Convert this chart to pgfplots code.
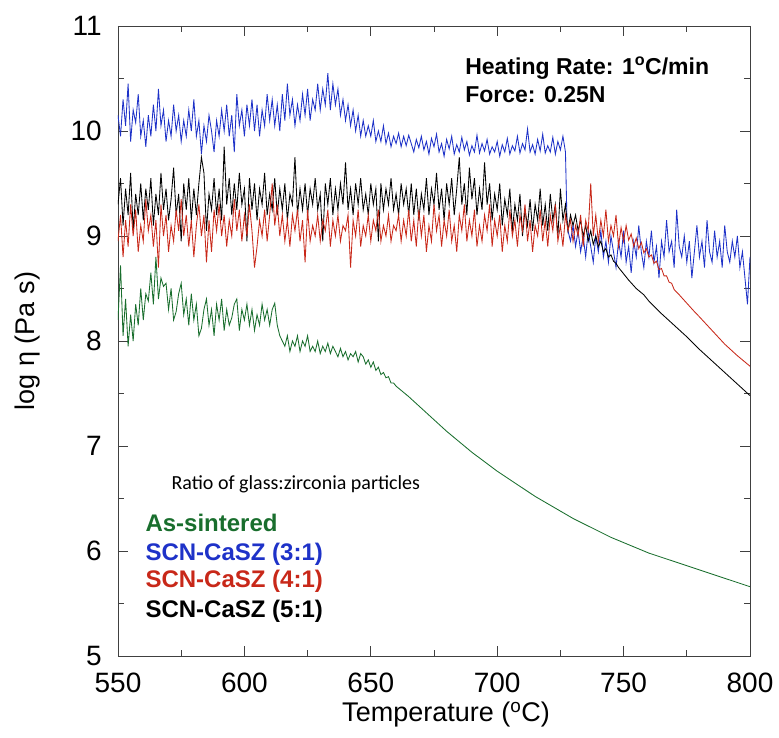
\documentclass[border=0pt]{standalone}
\usepackage{fontspec}
\setmainfont{Liberation Sans}
\newfontfamily\carlito{Carlito}
\usepackage{pgfplots}
\usepackage{pgfplotstable}
\pgfplotsset{compat=1.18}
\definecolor{cG}{RGB}{25,110,45}
\definecolor{cB}{RGB}{30,50,200}
\definecolor{cR}{RGB}{200,40,25}

\pgfplotstableread[row sep=\\]{x y\\
550 8.20\\551 8.72\\552 8.05\\553 8.40\\554 7.95\\555 8.25\\556 8.00\\557 8.35\\558 8.15\\559 8.50\\
560 8.20\\561 8.45\\562 8.38\\563 8.65\\564 8.35\\565 8.80\\566 8.40\\567 8.60\\568 8.52\\569 8.55\\
570 8.30\\571 8.50\\572 8.20\\573 8.28\\574 8.45\\575 8.55\\576 8.25\\577 8.40\\578 8.15\\579 8.45\\
580 8.20\\581 8.35\\582 8.05\\583 8.12\\584 8.30\\585 8.40\\586 8.15\\587 8.30\\588 8.05\\589 8.35\\
590 8.20\\591 8.40\\592 8.10\\593 8.30\\594 8.15\\595 8.22\\596 8.35\\597 8.40\\598 8.10\\599 8.30\\
600 8.20\\601 8.35\\602 8.15\\603 8.30\\604 8.10\\605 8.25\\606 8.15\\607 8.35\\608 8.20\\609 8.30\\
610 8.15\\611 8.30\\612 8.36\\613 8.15\\614 8.05\\615 8.00\\616 7.95\\617 8.05\\618 7.90\\619 8.00\\
620 7.95\\621 8.05\\622 7.90\\623 8.00\\624 7.95\\625 8.05\\626 7.90\\627 7.95\\628 7.90\\629 8.00\\
630 7.88\\631 7.95\\632 7.90\\633 7.98\\634 7.88\\635 7.95\\636 7.90\\637 7.85\\638 7.93\\639 7.85\\
640 7.90\\641 7.82\\642 7.88\\643 7.85\\644 7.90\\645 7.80\\646 7.88\\647 7.85\\648 7.78\\649 7.82\\
650 7.75\\651 7.80\\652 7.72\\653 7.75\\654 7.68\\655 7.70\\656 7.65\\657 7.66\\658 7.60\\659 7.60\\
660 7.57\\661 7.55\\662 7.53\\663 7.51\\664 7.49\\665 7.47\\670 7.36\\675 7.25\\680 7.14\\685 7.04\\
690 6.94\\695 6.85\\700 6.76\\705 6.68\\710 6.60\\715 6.52\\720 6.45\\725 6.38\\730 6.31\\735 6.25\\
740 6.19\\745 6.13\\750 6.08\\755 6.03\\760 5.98\\765 5.94\\770 5.90\\775 5.86\\780 5.82\\785 5.78\\
790 5.74\\795 5.70\\800 5.66\\
}\tG

\pgfplotstableread[row sep=\\]{x y\\
550 10.15\\551 9.95\\552 10.30\\553 10.05\\554 10.45\\555 9.90\\556 10.20\\557 10.08\\558 10.35\\559 9.95\\
560 10.10\\561 9.85\\562 10.15\\563 9.95\\564 10.25\\565 10.00\\566 10.40\\567 10.05\\568 10.20\\569 9.90\\
570 10.10\\571 9.95\\572 10.25\\573 10.00\\574 10.15\\575 9.90\\576 10.10\\577 9.95\\578 10.20\\579 10.00\\
580 10.30\\581 9.95\\582 10.10\\583 9.78\\584 10.05\\585 9.90\\586 10.15\\587 10.00\\588 9.80\\589 10.10\\
590 9.95\\591 10.20\\592 10.00\\593 10.25\\594 9.95\\595 10.15\\596 9.80\\597 10.35\\598 10.05\\599 10.20\\
600 9.95\\601 10.25\\602 10.05\\603 10.30\\604 10.00\\605 10.25\\606 9.95\\607 10.20\\608 10.05\\609 10.35\\
610 10.10\\611 10.30\\612 10.05\\613 10.25\\614 10.00\\615 10.35\\616 10.10\\617 10.45\\618 10.15\\619 10.30\\
620 10.05\\621 10.25\\622 10.10\\623 10.35\\624 10.15\\625 10.40\\626 10.10\\627 10.30\\628 10.20\\629 10.45\\
630 10.20\\631 10.40\\632 10.25\\633 10.55\\634 10.20\\635 10.45\\636 10.25\\637 10.40\\638 10.15\\639 10.30\\
640 10.10\\641 10.25\\642 10.05\\643 10.20\\644 10.00\\645 10.15\\646 9.95\\647 10.10\\648 9.95\\649 10.05\\
650 9.95\\651 10.10\\652 9.90\\653 10.00\\654 9.90\\655 10.05\\656 9.88\\657 9.98\\658 9.85\\659 9.95\\
660 9.88\\661 9.98\\662 9.85\\663 9.95\\664 9.86\\665 9.96\\666 9.88\\667 9.80\\668 9.92\\669 9.84\\
670 9.95\\671 9.82\\672 9.90\\673 9.78\\674 9.93\\675 9.85\\676 9.97\\677 9.80\\678 9.88\\679 9.76\\
680 9.92\\681 9.83\\682 9.95\\683 9.78\\684 9.87\\685 9.80\\686 9.94\\687 9.82\\688 9.90\\689 9.77\\
690 9.86\\691 9.80\\692 9.96\\693 9.79\\694 9.88\\695 9.81\\696 9.92\\697 9.78\\698 9.85\\699 9.80\\
700 9.90\\701 9.76\\702 9.87\\703 9.80\\704 9.93\\705 9.78\\706 9.86\\707 9.81\\708 9.95\\709 9.79\\
710 9.88\\711 9.82\\712 10.02\\713 9.80\\714 9.87\\715 9.78\\716 9.92\\717 9.81\\718 9.97\\719 9.79\\
720 9.86\\721 9.80\\722 9.94\\723 9.78\\724 9.90\\725 9.82\\726 9.95\\727 9.80\\727.6 9.15\\
728 9.05\\729 8.95\\730 9.10\\731 8.90\\732 9.05\\733 8.85\\734 9.00\\735 8.80\\736 9.05\\737 8.90\\
738 8.75\\739 9.00\\740 8.85\\741 9.05\\742 8.80\\743 8.95\\744 8.75\\745 9.00\\746 8.85\\747 8.70\\
748 8.95\\749 8.80\\750 9.05\\751 8.75\\752 8.90\\753 8.65\\754 8.95\\755 8.80\\756 9.10\\757 8.85\\
758 8.70\\759 8.95\\760 8.80\\761 9.05\\762 8.75\\763 8.90\\764 8.60\\765 8.95\\766 8.80\\767 9.15\\
768 8.85\\769 8.95\\770 8.70\\771 9.25\\772 8.90\\773 8.80\\774 9.00\\775 8.75\\776 8.95\\777 8.60\\
778 8.85\\779 9.10\\780 8.80\\781 8.95\\782 8.70\\783 9.15\\784 8.85\\785 8.75\\786 9.05\\787 8.80\\
788 8.95\\789 8.70\\790 9.10\\791 8.85\\792 8.75\\793 8.95\\794 8.80\\795 9.00\\796 8.70\\797 8.85\\
798 8.60\\799 8.35\\800 8.80\\
}\tB

\pgfplotstableread[row sep=\\]{x y\\
550 8.95\\551 9.20\\552 8.80\\553 9.15\\554 8.90\\555 9.30\\556 9.00\\557 9.25\\558 8.85\\559 9.10\\
560 8.95\\561 9.35\\562 9.05\\563 9.20\\564 8.90\\565 9.15\\566 8.70\\567 9.30\\568 9.00\\569 9.20\\
570 8.85\\571 9.10\\572 8.95\\573 9.25\\574 9.05\\575 9.35\\576 9.00\\577 9.20\\578 8.90\\579 9.15\\
580 8.80\\581 9.10\\582 9.30\\583 9.00\\584 9.20\\585 8.75\\586 9.15\\587 8.85\\588 9.25\\589 9.05\\
590 9.30\\591 9.00\\592 9.20\\593 8.90\\594 9.15\\595 9.00\\596 9.35\\597 9.05\\598 9.25\\599 8.95\\
600 9.20\\601 9.00\\602 9.30\\603 9.05\\604 8.70\\605 8.90\\606 9.15\\607 9.00\\608 9.25\\609 8.95\\
610 9.20\\611 9.50\\612 9.10\\613 9.30\\614 9.00\\615 9.20\\616 8.95\\617 9.15\\618 8.90\\619 9.20\\
620 9.05\\621 9.25\\622 8.95\\623 9.15\\624 8.75\\625 9.25\\626 8.95\\627 9.10\\628 9.00\\629 9.20\\
630 8.95\\631 9.15\\632 9.05\\633 9.25\\634 8.90\\635 9.15\\636 9.00\\637 9.20\\638 8.95\\639 9.10\\
640 9.05\\641 9.20\\642 8.70\\643 9.15\\644 9.00\\645 9.25\\646 8.90\\647 9.10\\648 9.00\\649 9.20\\
650 8.95\\651 9.15\\652 9.05\\653 9.25\\654 8.95\\655 9.10\\656 9.00\\657 9.20\\658 8.95\\659 9.10\\
660 9.05\\661 9.20\\662 8.95\\663 9.15\\664 9.00\\665 9.25\\666 8.95\\667 9.15\\668 8.90\\669 9.25\\
670 9.00\\671 9.20\\672 8.85\\673 9.10\\674 8.95\\675 9.30\\676 9.05\\677 9.20\\678 8.90\\679 9.15\\
680 9.00\\681 9.25\\682 8.95\\683 9.10\\684 8.85\\685 9.20\\686 9.05\\687 9.30\\688 8.95\\689 9.15\\
690 9.00\\691 9.25\\692 8.90\\693 9.10\\694 8.95\\695 9.20\\696 9.05\\697 9.30\\698 8.90\\699 9.15\\
700 9.00\\701 9.20\\702 8.85\\703 9.10\\704 8.95\\705 9.25\\706 9.00\\707 9.15\\708 8.90\\709 9.20\\
710 9.05\\711 9.30\\712 8.95\\713 9.15\\714 8.85\\715 9.10\\716 9.00\\717 9.25\\718 8.95\\719 9.15\\
720 8.90\\721 9.20\\722 9.05\\723 9.30\\724 8.95\\725 9.10\\726 8.90\\727 9.20\\728 9.05\\729 9.15\\
730 8.95\\731 9.10\\732 9.00\\733 9.20\\734 8.90\\735 9.15\\736 9.05\\737 9.50\\738 9.00\\739 9.20\\
740 8.95\\741 9.15\\742 9.00\\743 9.25\\744 8.95\\745 9.10\\746 9.00\\747 9.20\\748 8.90\\749 9.08\\
750 8.95\\751 9.10\\752 8.96\\753 9.02\\754 8.90\\755 8.98\\756 8.88\\757 8.94\\758 8.84\\759 8.88\\
760 8.80\\761 8.82\\762 8.74\\763 8.76\\764 8.68\\765 8.69\\766 8.62\\767 8.62\\768 8.56\\769 8.55\\
770 8.49\\772 8.44\\775 8.36\\778 8.28\\780 8.23\\785 8.10\\790 7.97\\795 7.86\\800 7.76\\
}\tR

\pgfplotstableread[row sep=\\]{x y\\
550 9.30\\551 9.55\\552 9.10\\553 9.45\\554 9.20\\555 9.60\\556 9.05\\557 9.40\\558 9.20\\559 9.50\\
560 9.15\\561 9.45\\562 9.25\\563 9.55\\564 9.10\\565 9.40\\566 9.20\\567 9.60\\568 9.25\\569 9.45\\
570 9.15\\571 9.35\\572 9.65\\573 9.20\\574 9.40\\575 8.95\\576 9.50\\577 9.25\\578 9.55\\579 9.15\\
580 9.45\\581 9.20\\582 9.50\\583 9.75\\584 9.60\\585 9.05\\586 9.40\\587 9.25\\588 9.55\\589 9.20\\
590 9.45\\591 9.15\\592 9.85\\593 9.30\\594 9.55\\595 9.20\\596 9.50\\597 9.25\\598 9.60\\599 9.30\\
600 9.45\\601 8.95\\602 9.55\\603 9.25\\604 9.50\\605 9.15\\606 9.45\\607 9.30\\608 9.60\\609 9.20\\
610 9.40\\611 9.25\\612 9.55\\613 9.20\\614 9.45\\615 9.25\\616 9.50\\617 9.15\\618 9.40\\619 9.30\\
620 9.75\\621 9.20\\622 9.45\\623 9.25\\624 9.50\\625 9.20\\626 9.45\\627 9.30\\628 9.55\\629 9.25\\
630 9.40\\631 8.95\\632 9.50\\633 9.30\\634 9.55\\635 9.20\\636 9.45\\637 9.25\\638 9.50\\639 9.30\\
640 9.70\\641 9.25\\642 9.45\\643 9.20\\644 9.50\\645 9.30\\646 9.55\\647 9.25\\648 9.40\\649 9.20\\
650 9.50\\651 9.30\\652 9.45\\653 8.95\\654 9.50\\655 9.25\\656 9.45\\657 9.30\\658 9.55\\659 9.25\\
660 9.40\\661 9.20\\662 9.50\\663 9.30\\664 9.45\\665 9.20\\666 9.50\\667 9.20\\668 9.45\\669 9.15\\
670 9.40\\671 9.25\\672 9.55\\673 9.20\\674 9.45\\675 9.30\\676 9.60\\677 9.25\\678 9.45\\679 9.15\\
680 9.50\\681 9.30\\682 9.55\\683 9.20\\684 9.45\\685 9.75\\686 9.30\\687 9.50\\688 9.20\\689 9.65\\
690 9.35\\691 9.55\\692 9.20\\693 9.45\\694 9.25\\695 9.70\\696 9.30\\697 9.50\\698 9.15\\699 9.40\\
700 9.25\\701 9.50\\702 9.10\\703 9.35\\704 9.20\\705 9.45\\706 9.05\\707 9.30\\708 9.15\\709 9.40\\
710 9.00\\711 9.25\\712 9.10\\713 9.35\\714 9.05\\715 9.30\\716 9.15\\717 9.45\\718 9.10\\719 9.30\\
720 9.05\\721 9.40\\722 9.15\\723 9.30\\724 9.00\\725 9.45\\726 9.15\\727 9.30\\728 9.05\\729 9.20\\
730 9.10\\731 9.20\\732 9.05\\733 9.15\\734 9.00\\735 9.10\\736 8.95\\737 9.05\\738 8.92\\739 9.00\\
740 8.90\\741 8.95\\742 8.85\\743 8.88\\744 8.80\\745 8.82\\746 8.76\\747 8.74\\748 8.70\\750 8.64\\
752 8.58\\755 8.50\\758 8.44\\760 8.38\\765 8.26\\770 8.15\\775 8.04\\780 7.92\\785 7.81\\790 7.70\\
795 7.59\\800 7.48\\
}\tK

\begin{document}
\begin{tikzpicture}
\path[use as bounding box] (-118pt,-82pt) rectangle (661pt,656pt);
\begin{axis}[
  at={(0,0)}, anchor=south west,
  width=632pt, height=630pt, scale only axis,
  xmin=550, xmax=800, ymin=5, ymax=11,
  xtick={550,600,650,700,750,800},
  ytick={5,6,7,8,9,10,11},
  minor xtick={575,625,675,725,775},
  minor ytick={5.5,6.5,7.5,8.5,9.5,10.5},
  tick align=inside,
  major tick length=10pt, minor tick length=6pt,
  tick style={black!75, line width=0.8pt},
  axis line style={black!75, line width=0.9pt},
  ticklabel style={font=\fontsize{28}{30}\selectfont, inner sep=0pt},
  /pgf/number format/assume math mode=true,
  xticklabel style={yshift=-17pt},
  yticklabel style={xshift=-16pt},
  xlabel={Temperature (\textsuperscript{o}C)},
  ylabel={log η (Pa s)},
  label style={font=\fontsize{27}{29}\selectfont, inner sep=0pt},
  xlabel style={at={(axis description cs:0.519,-0.0935)}, anchor=center},
  ylabel style={at={(axis description cs:-0.1424,0.5)}, anchor=center},
  every axis plot/.append style={line width=0.85pt},
]
\addplot[cB, no markers] table {\tB};
\addplot[black, no markers] table {\tK};
\addplot[cR, no markers] table {\tR};
\addplot[cG, no markers] table {\tG};

\node[anchor=base west, font=\bfseries\fontsize{23}{26}\selectfont] at (axis cs:686,10.54) {Heating Rate: 1\textsuperscript{o}C/min};
\node[anchor=base west, font=\bfseries\fontsize{23}{26}\selectfont] at (axis cs:686,10.276) {Force: 0.25N};
\node[anchor=base west, font=\carlito\fontsize{20}{22}\selectfont] at (axis cs:569.8,6.581) {Ratio of glass:zirconia particles};
\node[anchor=base west, text=cG, font=\bfseries\fontsize{24}{26}\selectfont] at (axis cs:559.5,6.181) {As-sintered};
\node[anchor=base west, text=cB, font=\bfseries\fontsize{24}{26}\selectfont] at (axis cs:559.5,5.914) {SCN-CaSZ (3:1)};
\node[anchor=base west, text=cR, font=\bfseries\fontsize{24}{26}\selectfont] at (axis cs:559.5,5.648) {SCN-CaSZ (4:1)};
\node[anchor=base west, text=black, font=\bfseries\fontsize{24}{26}\selectfont] at (axis cs:559.5,5.371) {SCN-CaSZ (5:1)};
\end{axis}
\end{tikzpicture}
\end{document}
